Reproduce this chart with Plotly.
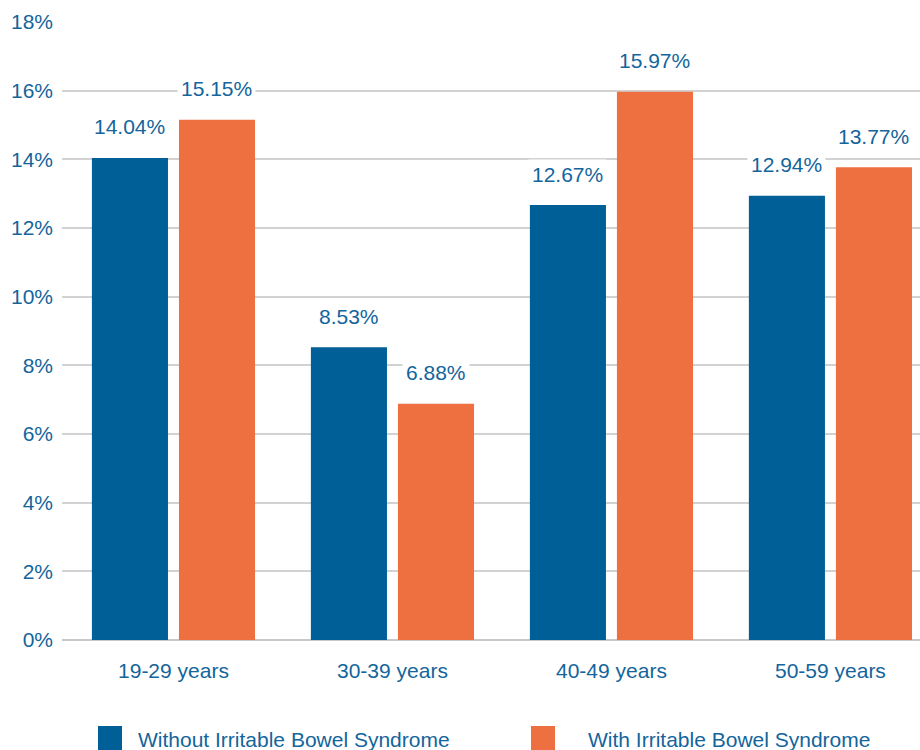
import plotly.graph_objects as go

categories = ["19-29 years", "30-39 years", "40-49 years", "50-59 years"]
without_ibs = [14.04, 8.53, 12.67, 12.94]
with_ibs = [15.15, 6.88, 15.97, 13.77]
series_names = ["Without Irritable Bowel Syndrome", "With Irritable Bowel Syndrome"]
y_ticks = [0, 2, 4, 6, 8, 10, 12, 14, 16, 18]

BLUE = "#005f96"
ORANGE = "#ee6f40"
TEXT = "#13659c"
FONT = "Liberation Sans, Arial, sans-serif"
FS = 21

W, H = 920, 750
ML, MR, MT, MB = 62, 0, 22, 110
PW, PH = W - ML - MR, H - MT - MB

def px_x(x):
    return (x - ML) / PW

def px_y(y):
    return (H - MB - y) / PH

fig = go.Figure()
fig.add_trace(go.Bar(x=categories, y=without_ibs, name=series_names[0],
                     marker=dict(color=BLUE, line=dict(width=0)), showlegend=False))
fig.add_trace(go.Bar(x=categories, y=with_ibs, name=series_names[1],
                     marker=dict(color=ORANGE, line=dict(width=0)), showlegend=False))

annotations = []
for i, cat in enumerate(categories):
    for vals, shift in ((without_ibs, -43.5), (with_ibs, 43.5)):
        annotations.append(dict(
            x=cat, y=vals[i], xref="x", yref="y", text=f"{vals[i]:.2f}%",
            showarrow=False, xshift=shift, yshift=31, yanchor="middle",
            bgcolor="white", borderpad=3,
            font=dict(family=FONT, size=FS, color=TEXT)))

# legend drawn manually
shapes = []
legend_items = [(98, 136, BLUE), (531, 586, ORANGE)]
for (sx, tx, col), name in zip(legend_items, series_names):
    shapes.append(dict(type="rect", xref="paper", yref="paper",
                       x0=px_x(sx), x1=px_x(sx + 24), y0=px_y(726), y1=px_y(752),
                       fillcolor=col, line=dict(width=0)))
    annotations.append(dict(x=px_x(tx), y=px_y(739), xref="paper", yref="paper",
                            text=name, showarrow=False, xanchor="left", yanchor="middle",
                            font=dict(family=FONT, size=FS, color=TEXT)))

fig.update_layout(
    width=W, height=H,
    margin=dict(l=ML, r=MR, t=MT, b=MB),
    paper_bgcolor="white", plot_bgcolor="white",
    barmode="group", bargap=0.205, bargroupgap=0.126,
    font=dict(family=FONT, size=FS, color=TEXT),
    annotations=annotations, shapes=shapes,
    showlegend=False,
)
fig.update_xaxes(range=[-0.509, 3.409], showgrid=False, zeroline=False,
                 showline=False, ticks="", ticklabelstandoff=16,
                 tickfont=dict(family=FONT, size=FS, color=TEXT))
fig.update_yaxes(range=[0, 18], tickvals=y_ticks, ticktext=[f"{v}%" for v in y_ticks],
                 showgrid=True, gridcolor="#d2d2d2", gridwidth=2,
                 zeroline=True, zerolinecolor="#c8c8c8", zerolinewidth=2,
                 showline=False, ticks="", ticklabelstandoff=8,
                 tickfont=dict(family=FONT, size=FS, color=TEXT))

fig.write_html("out.html")
